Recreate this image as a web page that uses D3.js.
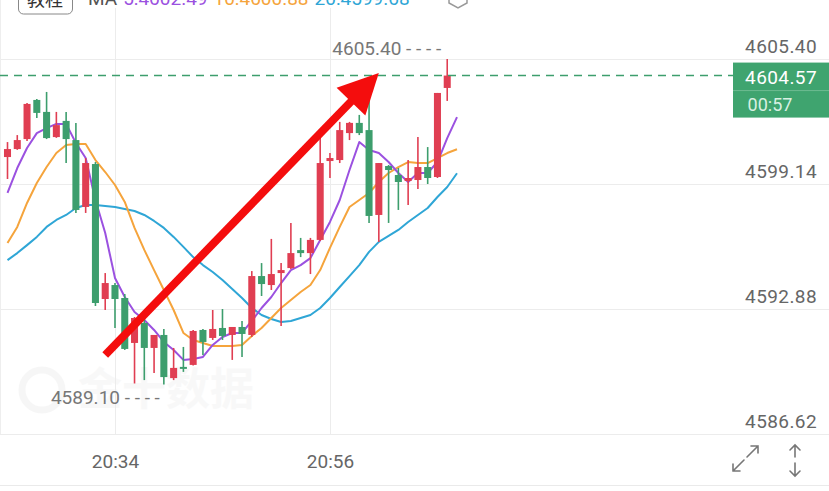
<!DOCTYPE html>
<html><head><meta charset="utf-8">
<script src="https://cdn.jsdelivr.net/npm/d3@7"></script>
<style>html,body{margin:0;padding:0;background:#fff;overflow:hidden}svg{display:block}</style>
</head><body>
<svg id="c" width="829" height="491"></svg>
<script>
// ---- data ----
const times = ["20:23","20:24","20:25","20:26","20:27","20:28","20:29","20:30","20:31","20:32",
"20:33","20:34","20:35","20:36","20:37","20:38","20:39","20:40","20:41","20:42",
"20:43","20:44","20:45","20:46","20:47","20:48","20:49","20:50","20:51","20:52",
"20:53","20:54","20:55","20:56","20:57","20:58","20:59","21:00","21:01","21:02",
"21:03","21:04","21:05","21:06","21:07","21:08","21:09"];
const open  = [4600.49,4600.89,4601.39,4603.35,4602.75,4601.49,4602.30,4601.34,4597.99,4600.14,
4593.38,4594.08,4593.43,4591.18,4592.18,4590.93,4591.58,4589.42,4589.98,4590.08,
4591.83,4591.43,4591.93,4591.58,4591.98,4591.58,4594.53,4594.08,4594.68,4594.93,
4595.83,4595.68,4596.34,4600.29,4600.34,4601.69,4602.20,4601.84,4597.59,4600.04,
4599.59,4599.29,4599.34,4599.99,4599.49,4603.95];
const high  = [4601.24,4601.59,4603.20,4603.40,4603.75,4602.75,4602.75,4602.20,4600.44,4600.24,
4594.68,4594.18,4593.63,4592.48,4592.43,4591.58,4591.88,4590.93,4590.98,4591.83,
4591.88,4592.83,4592.88,4591.98,4592.28,4594.78,4595.18,4596.39,4595.18,4597.19,
4596.44,4596.44,4601.69,4600.69,4602.25,4602.25,4602.60,4603.35,4600.19,4600.09,
4599.94,4600.34,4601.49,4600.99,4603.70,4605.40];
const low   = [4599.39,4600.85,4601.29,4602.45,4601.39,4601.45,4600.19,4597.69,4597.69,4593.03,
4592.83,4591.93,4590.83,4589.15,4589.32,4589.67,4589.10,4589.32,4589.73,4590.05,
4590.58,4591.33,4591.33,4590.33,4590.48,4591.48,4593.53,4593.83,4592.03,4594.88,
4595.48,4594.63,4596.29,4599.44,4600.19,4601.34,4601.59,4597.19,4596.24,4597.19,
4597.84,4598.09,4598.89,4599.14,4599.44,4603.30];
const close = [4600.89,4601.34,4603.15,4602.70,4601.44,4602.09,4601.39,4597.84,4600.19,4593.18,
4594.18,4593.38,4590.88,4592.43,4590.93,4591.58,4589.47,4589.93,4589.88,4591.78,
4591.23,4591.88,4591.53,4591.98,4591.63,4594.53,4594.13,4594.63,4594.83,4595.68,
4595.68,4596.34,4600.19,4600.44,4601.84,4602.20,4601.69,4597.54,4600.19,4599.84,
4599.24,4599.44,4599.99,4599.44,4603.70,4604.57];
const ma5  = [4598.69,4599.94,4600.94,4601.69,4601.94,4602.15,4602.15,4601.19,4600.44,4598.34,
4596.69,4594.43,4593.48,4592.73,4592.33,4591.83,4591.23,4590.83,4590.33,4590.38,
4590.48,4591.08,4591.48,4591.68,4591.68,4592.28,4592.93,4593.48,4594.18,4594.83,
4595.08,4595.43,4596.34,4597.24,4598.34,4599.84,4601.24,4600.84,4600.69,4600.24,
4599.69,4599.24,4599.69,4599.69,4600.24,4601.44,4602.49];
const ma10 = [4596.19,4596.99,4598.19,4599.19,4599.99,4600.69,4601.09,4601.14,4601.14,4600.34,
4599.74,4599.09,4598.24,4596.94,4595.84,4594.83,4593.83,4592.83,4591.68,4591.33,
4591.18,4591.03,4591.03,4591.03,4591.08,4591.53,4591.93,4592.43,4592.93,4593.33,
4593.73,4594.08,4594.83,4595.94,4596.99,4597.99,4598.34,4598.69,4599.24,4599.69,
4599.99,4600.24,4600.19,4600.19,4600.44,4600.69,4600.88];
const ma20 = [4595.33,4595.68,4596.08,4596.49,4596.99,4597.34,4597.59,4597.94,4598.09,4598.09,
4598.04,4597.99,4597.89,4597.79,4597.59,4597.29,4596.94,4596.49,4595.99,4595.48,
4595.08,4594.73,4594.33,4593.88,4593.43,4592.93,4592.58,4592.38,4592.23,4592.28,
4592.43,4592.58,4592.93,4593.43,4593.98,4594.53,4595.08,4595.74,4596.24,4596.54,
4596.84,4597.24,4597.59,4597.94,4598.49,4598.99,4599.68];
const yTicks = [4605.40, 4599.14, 4592.88, 4586.62];
const xTickLabels = ["20:34", "20:56"];
const lastPrice = 4604.57;
const countdown = "00:57";
const maxPrice = 4605.40, maxTime = "21:08";
const minPrice = 4589.10, minTime = "20:39";
const legend = [{t:"MA", c:"#555"},{t:"5:4602.49", c:"#9b51e0"},{t:"10:4600.88", c:"#f5a43c"},{t:"20:4599.68", c:"#2fa6d6"}];
const arrowFrom = {t:"20:33", p:4590.58};
const arrowTo = {t:"21:01", p:4604.70};

// ---- drawing ----
const W = 829, H = 491;
const svg = d3.select("#c");
const font = "Roboto, 'Noto Sans', sans-serif";
const RED = "#e03e52", GREEN = "#3d9e6d";

const x = d3.scalePoint().domain(times).range([7.5, 457]);
const y = d3.scaleLinear().domain([4586.62, 4605.40]).range([434, 59]);
const step = x.step();

// watermark (very faint)
const wm = svg.append("g").attr("opacity", 0.35);
wm.append("circle").attr("cx", 42).attr("cy", 390).attr("r", 20).attr("fill", "none").attr("stroke", "#e8e8e8").attr("stroke-width", 7);
wm.append("text").attr("x", 78).attr("y", 405).attr("font-size", 44).attr("font-weight", 700)
  .attr("fill", "#ededed").attr("font-family", "'Noto Sans CJK SC', sans-serif").text("金十数据");

// grid
svg.append("g").selectAll("line").data(yTicks).join("line")
  .attr("x1", 0).attr("x2", W).attr("y1", d => Math.round(y(d)) + 0.5).attr("y2", d => Math.round(y(d)) + 0.5)
  .attr("stroke", "#ececec").attr("stroke-width", 1);
svg.append("g").selectAll("line").data(xTickLabels).join("line")
  .attr("x1", d => Math.round(x(d)) + 0.5).attr("x2", d => Math.round(x(d)) + 0.5)
  .attr("y1", 8).attr("y2", 434).attr("stroke", "#ececec");
svg.append("line").attr("x1", 0).attr("x2", W).attr("y1", 485.5).attr("y2", 485.5).attr("stroke", "#eaeaea");
svg.append("line").attr("x1", 0.5).attr("x2", 0.5).attr("y1", 0).attr("y2", 434).attr("stroke", "#eeeeee");

// right axis labels
const yAxis = d3.axisRight(y).tickValues(yTicks).tickFormat(d3.format(".2f")).tickSize(0);
const ya = svg.append("g").attr("transform", "translate(817,0)").call(yAxis);
ya.select(".domain").remove();
ya.selectAll("text").attr("x", 0).attr("dy", "-7px").attr("text-anchor", "end")
  .attr("font-size", 19).attr("letter-spacing", "0.4px").attr("font-family", font).attr("fill", "#666").attr("dominant-baseline", "auto");

// bottom axis labels
const xAxis = d3.axisBottom(x).tickValues(xTickLabels).tickSize(0);
const xa = svg.append("g").attr("transform", "translate(0,451)").call(xAxis);
xa.select(".domain").remove();
xa.selectAll("text").attr("dy", 0).attr("y", 17).attr("font-size", 19).attr("font-family", font).attr("fill", "#666");

// MA lines
const lineGen = d3.line().x((d, i) => x(times[i])).y(d => y(d));
[[ma20, "#2fa6d6"], [ma10, "#f5a43c"], [ma5, "#9b51e0"]].forEach(([arr, c]) => {
  svg.append("path").datum(arr).attr("d", lineGen).attr("fill", "none").attr("stroke", c).attr("stroke-width", 2)
    .attr("stroke-linejoin", "round");
});

// candles
const cd = open.map((o, i) => ({t: times[i], o, h: high[i], l: low[i], c: close[i]}));
const cg = svg.append("g").selectAll("g").data(cd).join("g");
cg.append("line").attr("x1", d => x(d.t)).attr("x2", d => x(d.t)).attr("y1", d => y(d.h)).attr("y2", d => y(d.l))
  .attr("stroke", d => d.c >= d.o ? RED : GREEN).attr("stroke-width", 1.6);
cg.append("rect").attr("x", d => x(d.t) - step * 0.36).attr("width", step * 0.72)
  .attr("y", d => y(Math.max(d.o, d.c))).attr("height", d => Math.max(1.5, Math.abs(y(d.o) - y(d.c))))
  .attr("fill", d => d.c >= d.o ? RED : GREEN);

// last price dashed line
svg.append("line").attr("x1", 0).attr("x2", 733).attr("y1", y(lastPrice)).attr("y2", y(lastPrice))
  .attr("stroke", GREEN).attr("stroke-width", 1.4).attr("stroke-dasharray", "8,6");
// price box
const by = y(lastPrice) - 13;
svg.append("rect").attr("x", 733).attr("y", by).attr("width", 96).attr("height", 55).attr("fill", "#3fa46f");
svg.append("line").attr("x1", 733).attr("x2", 829).attr("y1", by + 28).attr("y2", by + 28).attr("stroke", "#6cbb90").attr("stroke-width", 1);
svg.append("text").attr("x", 817).attr("y", by + 21).attr("text-anchor", "end").attr("font-size", 19).attr("letter-spacing", "0.4px")
  .attr("font-family", font).attr("fill", "#fff").text(lastPrice.toFixed(2));
svg.append("text").attr("x", 770).attr("y", by + 48).attr("text-anchor", "middle").attr("font-size", 18)
  .attr("font-family", font).attr("fill", "#d8f0e2").text(countdown);

// max/min labels
svg.append("text").attr("x", x(maxTime) - 6).attr("y", y(maxPrice) - 4).attr("text-anchor", "end")
  .attr("font-size", 19).attr("font-family", font).attr("fill", "#777").text(maxPrice.toFixed(2) + "  - - - -");
svg.append("text").attr("x", x(minTime) - 4).attr("y", y(minPrice) + 20).attr("text-anchor", "end")
  .attr("font-size", 19).attr("font-family", font).attr("fill", "#777").text(minPrice.toFixed(2) + "  - - - -");

// red arrow annotation
const ax0 = x(arrowFrom.t), ay0 = y(arrowFrom.p), ax1 = x(arrowTo.t), ay1 = y(arrowTo.p);
const ang = Math.atan2(ay1 - ay0, ax1 - ax0);
const headLen = 40, headW = 20;
const bx = ax1 - headLen * Math.cos(ang), byy = ay1 - headLen * Math.sin(ang);
svg.append("line").attr("x1", ax0).attr("y1", ay0).attr("x2", bx + 4 * Math.cos(ang)).attr("y2", byy + 4 * Math.sin(ang))
  .attr("stroke", "#f40d0d").attr("stroke-width", 8);
const px = -Math.sin(ang), py = Math.cos(ang);
svg.append("path").attr("d", `M${ax1},${ay1}L${bx + headW * px},${byy + headW * py}L${bx - headW * px},${byy - headW * py}Z`)
  .attr("fill", "#f40d0d");

// top bar (clipped, as in the source)
svg.append("rect").attr("x", 18.5).attr("y", -20).attr("width", 54).attr("height", 34).attr("rx", 5)
  .attr("fill", "#fff").attr("stroke", "#888").attr("stroke-width", 1);
svg.append("text").attr("x", 45).attr("y", 6).attr("text-anchor", "middle").attr("font-size", 18)
  .attr("font-family", "'Noto Sans CJK SC', sans-serif").attr("fill", "#333").text("教程");
const lg = svg.append("text").attr("x", 88).attr("y", 5).attr("font-size", 19).attr("font-family", font);
legend.forEach((d, i) => lg.append("tspan").attr("dx", i ? 6 : 0).attr("fill", d.c).text(d.t));
svg.append("path").attr("d", "M449,-3L458,-8L467,-3L467,3L458,8L449,3Z").attr("fill", "none").attr("stroke", "#999").attr("stroke-width", 1.5);

// bottom right icons
const ic = svg.append("g").attr("stroke", "#777").attr("stroke-width", 1.6).attr("fill", "none").attr("stroke-linecap", "round");
ic.append("path").attr("d", "M747,457L758,446M751,446L758,446L758,453");
ic.append("path").attr("d", "M744,460L733,471M733,464L733,471L740,471");
ic.append("path").attr("d", "M795,445L795,457M790,450L795,445L800,450");
ic.append("path").attr("d", "M795,463L795,476M790,471L795,476L800,471");
</script>
</body></html>
